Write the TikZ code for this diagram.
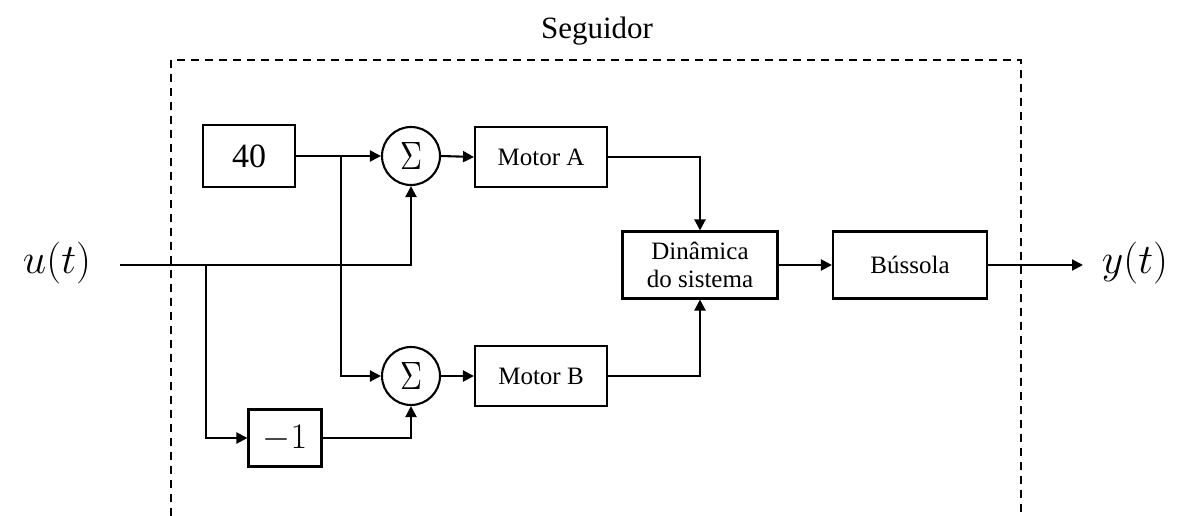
\RequirePackage{fix-cm}
\documentclass[tikz,border=0pt]{standalone}
\usepackage{fontspec}
\usepackage{graphicx}
\setmainfont{Liberation Serif}
\usetikzlibrary{arrows.meta}
\newcommand{\bigsig}{\resizebox{22pt}{27pt}{$\Sigma$}}
\begin{document}
\begin{tikzpicture}[x=1pt,y=-1pt,line width=2.1pt,
  >={Triangle[length=11pt,width=11pt]},
  blk/.style={draw,rectangle,inner sep=0pt,align=center,font=\fontsize{25}{28}\selectfont},
  sumnode/.style={draw,circle,minimum size=58pt,inner sep=0pt},
  sig/.style={font=\fontsize{42}{42}\selectfont},
  frame/.style={dash pattern=on 8pt off 6pt,line width=1.8pt}]
\useasboundingbox (0,0) rectangle (1180,516);
% frame
\coordinate (fl) at (171,516);
\coordinate (ftl) at (171,60);
\coordinate (ftr) at (1021,60);
\coordinate (fr) at (1021,516);
\draw[frame] (fl) -- (ftl) -- (ftr) -- (fr);
\node[font=\fontsize{31}{31}\selectfont] (title) at (597,31) {Seguidor};
% blocks
\node[blk,minimum width=92pt,minimum height=62pt,font=\fontsize{34}{34}\selectfont] (k40) at (249,156) {40};
\node[sumnode] (s1) at (411,156) {\bigsig};
\node[sumnode] (s2) at (411,376) {\bigsig};
\node[blk,minimum width=132pt,minimum height=60pt] (ma) at (541,157) {Motor A};
\node[blk,minimum width=132pt,minimum height=60pt] (mb) at (541,376) {Motor B};
\node[blk,minimum width=73pt,minimum height=57pt,font=\fontsize{36}{36}\selectfont] (neg) at (285,438) {$-1$};
\node[blk,minimum width=155pt,minimum height=67pt] (dyn) at (700,265) {Dinâmica\\do sistema};
\node[blk,minimum width=154pt,minimum height=67pt] (bus) at (910,265) {Bússola};
% signals
\node[sig] (u) at (57,263) {$u(t)$};
\node[sig] (y) at (1135,263) {$y(t)$};
\coordinate (uin) at (120,265);
\coordinate (ub) at (206,265);
\coordinate (b40) at (341,156);
\coordinate (yend) at (1083,265);
% connectors
\draw[->] (k40.east) -- (s1.west);
\draw[->] (b40) |- (s2.west);
\draw[->] (uin) -| (s1.south);
\draw[->] (ub) |- (neg.west);
\draw[->] (neg.east) -| (s2.south);
\draw[->] (s1.east) -- (ma.west);
\draw[->] (s2.east) -- (mb.west);
\draw[->] (ma.east) -| (dyn.north);
\draw[->] (mb.east) -| (dyn.south);
\draw[->] (dyn.east) -- (bus.west);
\draw[->] (bus.east) -- (yend);
\end{tikzpicture}
\end{document}
